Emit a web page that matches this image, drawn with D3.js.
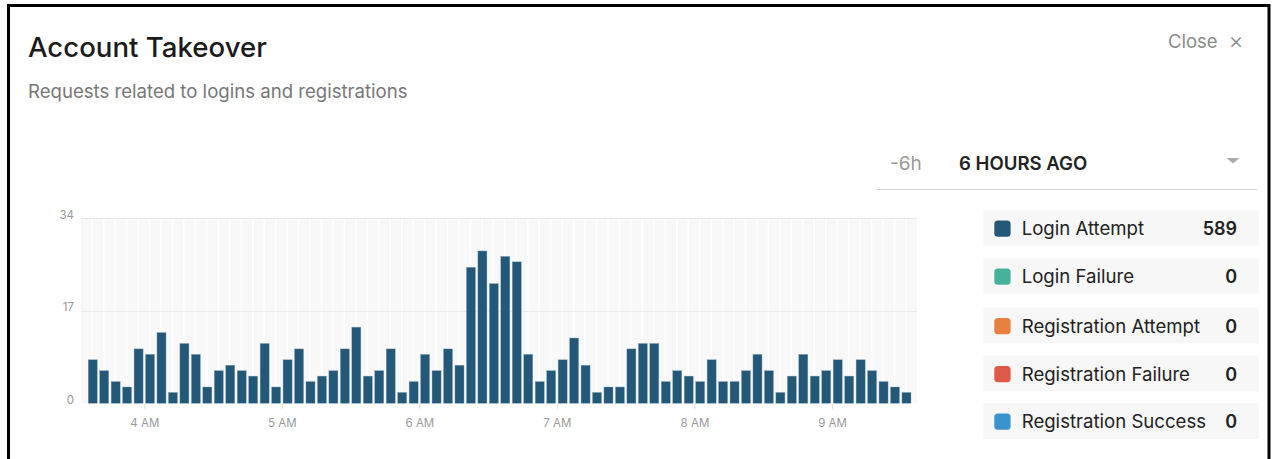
<!DOCTYPE html>
<html>
<head>
<meta charset="utf-8">
<script src="https://cdn.jsdelivr.net/npm/d3@7"></script>
<style>
  html, body { margin: 0; padding: 0; background: #fff; }
  svg { display: block; font-family: "Inter", "Helvetica Neue", Arial, sans-serif; }
</style>
</head>
<body>
<svg id="card" width="1275" height="459"></svg>
<script>
// Login attempts per 5-minute bin, starting 03:35
const binStart = new Date(2020, 0, 1, 3, 35);
const binMinutes = 5;
const loginAttempts = [
  8, 6, 4, 3, 10, 9, 13, 2, 11, 9, 3, 6, 7, 6, 5, 11, 3, 8, 10, 4, 5, 6,
  10, 14, 5, 6, 10, 2, 4, 9, 6, 10, 7,
  25, 28, 22, 27, 26,
  9, 4, 6, 8, 12, 7, 2, 3, 3,
  10, 11, 11, 4, 6, 5, 4, 8, 4, 4, 6, 9, 6, 2, 5, 9, 5, 6, 8, 5, 8, 6, 4, 3, 2
];
const yTicks = [0, 17, 34];

// Legend series
const seriesNames = ["Login Attempt", "Login Failure", "Registration Attempt", "Registration Failure", "Registration Success"];
const seriesColors = ["#245878", "#46b29c", "#e8803f", "#e05a4a", "#3a93cc"];
const seriesTotals = [589, 0, 0, 0, 0];

const svg = d3.select("#card");

// card frame
svg.append("rect")
  .attr("x", 8.5).attr("y", 5.5)
  .attr("width", 1260.5).attr("height", 520)
  .attr("fill", "#fff").attr("stroke", "#000").attr("stroke-width", 3);

// header
svg.append("text").attr("x", 28).attr("y", 57)
  .attr("font-size", 27.6).attr("font-weight", 500).attr("fill", "#1b1b1b")
  .text("Account Takeover");
svg.append("text").attr("x", 28).attr("y", 97.5)
  .attr("font-size", 18.6).attr("fill", "#777")
  .text("Requests related to logins and registrations");
svg.append("text").attr("x", 1168).attr("y", 48)
  .attr("font-size", 18.5).attr("fill", "#8a8a8a")
  .text("Close");
svg.append("text").attr("x", 1236).attr("y", 48.5)
  .attr("font-size", 23).attr("font-weight", 300).attr("fill", "#8a8a8a").attr("text-anchor", "middle")
  .text("×");

// time range selector
svg.append("text").attr("x", 890).attr("y", 169.5)
  .attr("font-size", 19).attr("fill", "#999").text("-6h");
svg.append("text").attr("x", 959).attr("y", 169.5)
  .attr("font-size", 18.6).attr("font-weight", 600).attr("fill", "#222").text("6 HOURS AGO");
svg.append("path")
  .attr("d", "M1226.5,158 L1239.5,158 L1233,163.5 Z")
  .attr("fill", "#aaa");
svg.append("line")
  .attr("x1", 877).attr("x2", 1257).attr("y1", 189.5).attr("y2", 189.5)
  .attr("stroke", "#d4d4d4").attr("stroke-width", 1);

// chart
const bins = loginAttempts.map((v, i) => ({ t: d3.timeMinute.offset(binStart, i * binMinutes), v }));
const binEnd = d3.timeMinute.offset(binStart, loginAttempts.length * binMinutes);

const x = d3.scaleTime().domain([binStart, binEnd]).range([87, 912.2]);
const y = d3.scaleLinear().domain([0, 34]).range([403.3, 218.3]);
const step = x(d3.timeMinute.offset(binStart, binMinutes)) - x(binStart);

const plot = svg.append("g");
plot.append("rect")
  .attr("x", 81).attr("y", y(34))
  .attr("width", 917 - 81).attr("height", y(0) - y(34))
  .attr("fill", "#f8f8f8");

// column separators
plot.selectAll("line.col").data(bins).join("line")
  .attr("class", "col")
  .attr("x1", d => x(d.t) + step / 2 - 0.5).attr("x2", d => x(d.t) + step / 2 - 0.5)
  .attr("y1", y(34)).attr("y2", y(0))
  .attr("stroke", "#fff").attr("stroke-width", 1.4);

// horizontal grid
plot.selectAll("line.grid").data(yTicks.filter(d => d > 0)).join("line")
  .attr("class", "grid")
  .attr("x1", 81).attr("x2", 917)
  .attr("y1", d => Math.round(y(d)) + 0.5).attr("y2", d => Math.round(y(d)) + 0.5)
  .attr("stroke", "#eaeaea");

// bars
plot.selectAll("rect.bar").data(bins).join("rect")
  .attr("class", "bar")
  .attr("x", d => x(d.t) + 1.2)
  .attr("width", step - 2.4)
  .attr("y", d => y(d.v))
  .attr("height", d => y(0) - y(d.v))
  .attr("fill", seriesColors[0])
  .attr("stroke", "#8fa9bb").attr("stroke-width", 0.4);

// y axis labels
const yAxis = d3.axisLeft(y).tickValues(yTicks).tickSize(0).tickPadding(0);
const yg = svg.append("g").attr("transform", "translate(74,-3.5)").call(yAxis);
yg.select(".domain").remove();
yg.selectAll("text").attr("font-family", "Inter, sans-serif").attr("font-size", 11.5).attr("fill", "#999");

// x axis
const xAxis = d3.axisBottom(x)
  .ticks(d3.timeHour.every(1))
  .tickFormat(d3.timeFormat("%-I %p"))
  .tickSize(5).tickPadding(10);
const xg = svg.append("g").attr("transform", "translate(0,404)").call(xAxis);
xg.select(".domain").remove();
xg.selectAll(".tick line").attr("stroke", "#ddd");
xg.selectAll("text").attr("font-family", "Inter, sans-serif").attr("font-size", 11.5).attr("fill", "#999");

// legend
const rowTops = [210, 258, 307.5, 355.5, 403];
const legend = svg.append("g").selectAll("g").data(seriesNames).join("g")
  .attr("transform", (d, i) => `translate(0,${rowTops[i]})`);
legend.append("rect")
  .attr("x", 983.3).attr("y", 0).attr("width", 275.4).attr("height", 36)
  .attr("fill", "#f7f7f7");
legend.append("rect")
  .attr("x", 994.3).attr("y", 10.5).attr("width", 16.3).attr("height", 16.3).attr("rx", 3.5)
  .attr("fill", (d, i) => seriesColors[i]);
legend.append("text")
  .attr("x", 1021.7).attr("y", 25.3)
  .attr("font-size", 18.6).attr("fill", "#222")
  .text(d => d);
legend.append("text")
  .attr("x", 1237).attr("y", 25.3).attr("text-anchor", "end")
  .attr("font-size", 18).attr("font-weight", 600).attr("fill", "#222")
  .text((d, i) => seriesTotals[i]);
</script>
</body>
</html>
